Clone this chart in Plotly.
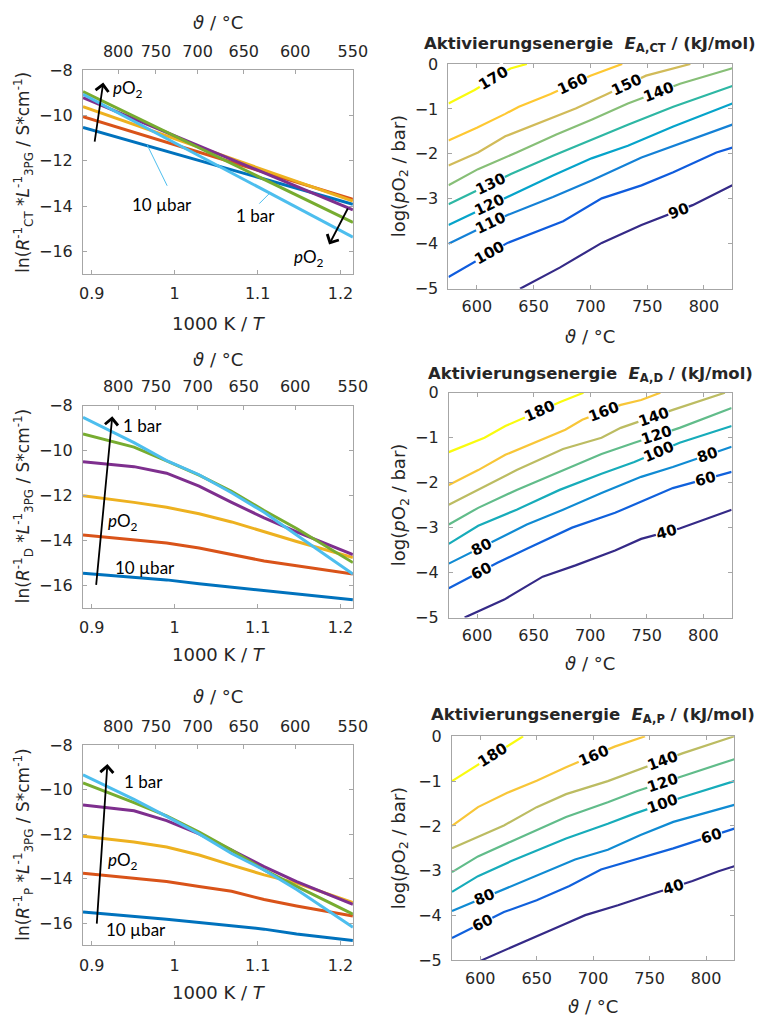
import math
import numpy as np
import plotly.graph_objects as go

W, H = 772, 1029
FONT = "DejaVu Sans"
ANNFONT = "Lato"
TXT = "#262626"
AXC = "#a6a6a6"

# ---------------- left panels: ln(conductance) vs 1000K/T ----------------
po2_names = ["10 µbar", "100 µbar", "1 mbar", "10 mbar", "100 mbar", "1 bar"]
po2_colors = ["#0072BD", "#D95319", "#EDB120", "#7E2F8E", "#77AC30", "#4DBEEE"]

invT_ct = [0.8894, 1.2149]
ln_ct = [
    [-10.52, -13.92],
    [-10.05, -13.70],
    [-9.60, -13.78],
    [-9.21, -14.16],
    [-8.94, -14.72],
    [-9.06, -15.37],
]

invT_dp = [0.8894, 0.9509, 0.9902, 1.0294, 1.0686, 1.1078, 1.1470, 1.2149]
ln_d = [
    [-15.47, -15.64, -15.76, -15.93, -16.08, -16.22, -16.36, -16.65],
    [-13.76, -13.98, -14.12, -14.34, -14.63, -14.92, -15.13, -15.50],
    [-12.02, -12.31, -12.53, -12.82, -13.18, -13.62, -14.05, -14.77],
    [-10.50, -10.72, -11.01, -11.59, -12.31, -13.00, -13.62, -14.63],
    [-9.27, -9.85, -10.46, -11.10, -11.82, -12.67, -13.47, -14.99],
    [-8.52, -9.65, -10.45, -11.08, -11.88, -12.75, -13.76, -15.50],
]
ln_p = [
    [-15.50, -15.68, -15.82, -15.97, -16.12, -16.27, -16.49, -16.78],
    [-13.76, -13.98, -14.13, -14.35, -14.57, -14.94, -15.23, -15.68],
    [-12.09, -12.35, -12.58, -12.94, -13.39, -13.83, -14.20, -15.08],
    [-10.69, -10.95, -11.39, -11.99, -12.72, -13.46, -14.13, -15.16],
    [-9.70, -10.58, -11.18, -11.91, -12.72, -13.61, -14.35, -15.60],
    [-9.33, -10.44, -11.20, -11.99, -12.87, -13.61, -14.49, -16.19],
]

theta_ticks = [800, 750, 700, 650, 600, 550]
invT_ticks = [0.9, 1.0, 1.1, 1.2]
invT_ticktext = ["0.9", "1", "1.1", "1.2"]
ln_ticks = [-16, -14, -12, -10, -8]

# ---------------- right panels: activation energy contours ----------------
ct_levels = [90, 100, 110, 120, 130, 140, 150, 160, 170]
ct_x = [
    [638, 673, 710, 745, 790, 825],
    [575, 627, 676, 710, 745, 773, 811, 825],
    [575, 627, 667, 701, 745, 825],
    [575, 630, 667, 701, 733, 773, 825],
    [575, 630, 667, 701, 733, 773, 825],
    [575, 601, 635, 670, 701, 733, 779, 825],
    [575, 601, 625, 658, 687, 713, 749, 788],
    [575, 600, 625, 637, 665, 700, 728],
    [575, 598, 629.6, 644],
]
ct_y = [
    [-5.0, -4.53, -3.98, -3.58, -3.14, -2.70],
    [-4.74, -3.98, -3.50, -2.99, -2.70, -2.41, -1.97, -1.86],
    [-4.0, -3.36, -2.96, -2.59, -2.08, -1.35],
    [-3.58, -2.92, -2.48, -2.10, -1.82, -1.39, -0.88],
    [-3.12, -2.45, -2.04, -1.68, -1.35, -0.95, -0.49],
    [-2.70, -2.34, -1.97, -1.57, -1.24, -0.88, -0.44, -0.095],
    [-2.26, -1.97, -1.61, -1.28, -0.99, -0.69, -0.26, 0.0],
    [-1.70, -1.42, -1.11, -0.95, -0.67, -0.26, 0.0],
    [-0.88, -0.58, -0.10, 0.0],
]
ct_label_level = [170, 160, 150, 140, 130, 120, 110, 100, 90]
ct_label_x = [615, 684, 731.6, 760, 612, 611, 612, 611, 777.6]

d_levels = [40, 60, 80, 100, 120, 140, 160, 180]
d_x = [
    [589, 624, 658, 687, 722, 745, 779, 825],
    [575, 618, 644, 684, 722, 745, 773, 825],
    [575, 618, 644, 676, 710, 745, 773, 825],
    [575, 601, 635, 673, 710, 739, 779, 825],
    [575, 601, 635, 673, 710, 739, 779, 825],
    [575, 601, 635, 676, 710, 727, 773, 819],
    [575, 601, 625, 661, 678, 693, 727, 745, 762],
    [575, 606.6, 625, 674, 694],
]
d_y = [
    [-5.0, -4.60, -4.09, -3.84, -3.51, -3.25, -3.02, -2.60],
    [-4.35, -3.78, -3.47, -3.0, -2.67, -2.42, -2.12, -1.76],
    [-3.80, -3.25, -2.93, -2.60, -2.23, -1.87, -1.65, -1.20],
    [-3.36, -2.96, -2.60, -2.16, -1.80, -1.54, -1.11, -0.74],
    [-2.93, -2.56, -2.16, -1.76, -1.36, -1.11, -0.78, -0.34],
    [-2.49, -2.16, -1.72, -1.25, -1.0, -0.78, -0.38, 0.0],
    [-2.05, -1.72, -1.38, -1.0, -0.82, -0.60, -0.27, -0.16, 0.0],
    [-1.32, -1.0, -0.74, -0.20, 0.0],
]
d_label_level = [180, 160, 140, 120, 100, 80, 60, 80, 60, 40]
d_label_x = [655.5, 711.5, 756, 759, 760, 604, 604, 803.5, 802, 767.5]

p_levels = [40, 60, 80, 100, 120, 140, 160, 180]
p_x = [
    [601, 627, 673, 693, 722, 748, 788, 811, 825],
    [575, 621, 650, 679, 707, 736, 771, 825],
    [575, 621, 656, 684, 713, 742, 771, 825],
    [575, 598, 627, 676, 713, 736, 779, 825],
    [575, 598, 627, 676, 713, 739, 779, 825],
    [575, 621, 650, 676, 713, 736, 779, 825],
    [575, 598, 624, 650, 676, 719, 746],
    [575, 627, 638],
]
p_y = [
    [-5.0, -4.72, -4.21, -3.99, -3.77, -3.55, -3.23, -3.01, -2.90],
    [-4.50, -3.92, -3.66, -3.34, -2.97, -2.75, -2.50, -2.06],
    [-3.90, -3.41, -3.04, -2.75, -2.53, -2.20, -1.91, -1.53],
    [-3.47, -3.12, -2.79, -2.28, -1.95, -1.73, -1.36, -1.0],
    [-3.03, -2.68, -2.35, -1.80, -1.47, -1.22, -0.89, -0.51],
    [-2.50, -1.99, -1.58, -1.29, -1.0, -0.78, -0.38, 0.0],
    [-2.0, -1.58, -1.26, -0.99, -0.69, -0.23, 0.0],
    [-1.0, -0.16, 0.0],
]
p_label_level = [180, 160, 140, 120, 100, 80, 60, 60, 40]
p_label_x = [611, 700, 761, 761, 761, 604, 602, 805, 771]

temp_ticks = [600, 650, 700, 750, 800]
logp_ticks = [-5, -4, -3, -2, -1, 0]

# ---------------- helpers ----------------
PARULA = ["#352A87", "#0F5CDD", "#1481D6", "#06A4CA", "#2EB7A4",
          "#87BF77", "#D1BB59", "#FEC832", "#F9FB0E"]


def parula(t):
    t = min(max(t, 0.0), 1.0)
    pos = t * (len(PARULA) - 1)
    i = min(int(pos), len(PARULA) - 2)
    f = pos - i
    c0 = [int(PARULA[i][k:k + 2], 16) for k in (1, 3, 5)]
    c1 = [int(PARULA[i + 1][k:k + 2], 16) for k in (1, 3, 5)]
    c = [round(a + (b - a) * f) for a, b in zip(c0, c1)]
    return "rgb(%d,%d,%d)" % tuple(c)


def aid(prefix, n):
    return prefix if n == 1 else f"{prefix}{n}"


def dom_x(l, r):
    return [l / W, r / W]


def dom_y(t, b):
    return [1 - b / H, 1 - t / H]


fig = go.Figure()
layout = {}
annotations = []
shapes = []

tickfont = dict(family=FONT, size=16, color=TXT)
base = dict(showgrid=False, zeroline=False, showline=True, linecolor=AXC, linewidth=1,
            ticks="inside", ticklen=4, tickcolor=AXC, tickwidth=1,
            tickfont=tickfont, fixedrange=True)

LX = (81, 357.7)
left_boxes = [(62.5, 270), (404, 610), (750, 954)]
right_boxes = [((455.7, 746.7), (56, 285)), ((456, 746), (391, 620)), ((459.3, 748.7), (741, 969.3))]
INV_RANGE = [0.8894, 1.2149]
T_RANGE = [575, 825]
left_top_title_y = [13.5, 357.5, 700]
left_bot_title_y = [320, 658, 1002.5]


def ann_paper(text, x, y, size, angle=0, family=FONT, xanchor="center", yanchor="middle"):
    annotations.append(dict(text=text, x=x / W, y=1 - y / H, xref="paper", yref="paper",
                            showarrow=False, textangle=angle, xanchor=xanchor, yanchor=yanchor,
                            font=dict(family=family, size=size, color=TXT)))


left_data = [(invT_ct, ln_ct), (invT_dp, ln_d), (invT_dp, ln_p)]
ytitles = [
    "ln(<i>R</i><sup>-1</sup><sub>CT</sub> *<i>L</i><sup>-1</sup><sub>3PG</sub> / S*cm<sup>-1</sup>)",
    "ln(<i>R</i><sup>-1</sup><sub>D</sub> *<i>L</i><sup>-1</sup><sub>3PG</sub> / S*cm<sup>-1</sup>)",
    "ln(<i>R</i><sup>-1</sup><sub>P</sub> *<i>L</i><sup>-1</sup><sub>3PG</sub> / S*cm<sup>-1</sup>)",
]
top_tickvals = [1000.0 / (t + 273.15) for t in theta_ticks]

for i in range(3):
    n = 2 * i + 1
    nt = 7 + i
    xs, series = left_data[i]
    top, bot = left_boxes[i]
    for j, vals in enumerate(series):
        fig.add_trace(go.Scatter(x=xs, y=vals, mode="lines", name=po2_names[j],
                                 line=dict(color=po2_colors[j], width=3),
                                 xaxis=aid("x", n), yaxis=aid("y", n),
                                 showlegend=False, hoverinfo="skip"))
    fig.add_trace(go.Scatter(x=[1.0], y=[-12], mode="markers", marker=dict(opacity=0, size=1),
                             xaxis=aid("x", nt), yaxis=aid("y", n), showlegend=False, hoverinfo="skip"))
    layout[aid("xaxis", n)] = dict(base, domain=dom_x(*LX), range=INV_RANGE, anchor=aid("y", n),
                                   tickvals=invT_ticks, ticktext=invT_ticktext, mirror=True,
                                   ticklabelstandoff=5)
    layout[aid("yaxis", n)] = dict(base, domain=dom_y(top, bot), range=[-17, -8], anchor=aid("x", n),
                                   tickvals=ln_ticks, mirror="ticks", ticklabelstandoff=6)
    layout[aid("xaxis", nt)] = dict(base, overlaying=aid("x", n), side="top", anchor=aid("y", n),
                                    range=INV_RANGE, tickvals=top_tickvals,
                                    ticktext=[str(t) for t in theta_ticks], showline=False,
                                    ticklabelstandoff=9)
    cx = (LX[0] + LX[1]) / 2
    ann_paper("<i>ϑ</i> / °C", cx, left_top_title_y[i], 18)
    ann_paper("1000 K / <i>T</i>", cx + 1, left_bot_title_y[i], 18)
    ann_paper(ytitles[i], 20, (top + bot) / 2, 17, angle=-90)


# annotations inside left panels (arrows and texts)
def data_ann(text, x, y, xr, yr, size=17, **kw):
    d = dict(text=text, x=x, y=y, xref=xr, yref=yr, showarrow=False,
             font=dict(family=ANNFONT, size=size, color="black"))
    d.update(kw)
    annotations.append(d)


def arrow(x, y, ax, ay, xr, yr):
    annotations.append(dict(text="", x=x, y=y, ax=ax, ay=ay, xref=xr, yref=yr, axref=xr, ayref=yr,
                            showarrow=True, arrowhead=4, arrowsize=1.4, arrowwidth=1.8,
                            arrowcolor="black", standoff=0, startstandoff=0))


# panel 1
arrow(0.9138, -8.54, 0.9032, -11.22, "x", "y")
data_ann("<i>p</i>O<sub>2</sub>", 0.9441, -8.83, "x", "y")
arrow(1.1862, -15.70, 1.2097, -14.04, "x", "y")
data_ann("<i>p</i>O<sub>2</sub>", 1.1623, -16.28, "x", "y")
data_ann("10 µbar", 0.9843, -13.94, "x", "y")
data_ann("1 bar", 1.097, -14.42, "x", "y")
shapes.append(dict(type="line", xref="x", yref="y", x0=0.9667, y0=-11.29, x1=0.9909, y1=-13.10,
                   line=dict(color="#4DBEEE", width=1)))
shapes.append(dict(type="line", xref="x", yref="y", x0=1.1020, y0=-13.89, x1=1.1156, y1=-13.39,
                   line=dict(color="#4DBEEE", width=1)))
# panel 2
arrow(0.9247, -8.48, 0.9051, -16.05, "x3", "y3")
data_ann("1 bar", 0.9608, -8.90, "x3", "y3")
data_ann("<i>p</i>O<sub>2</sub>", 0.9382, -13.18, "x3", "y3")
data_ann("10 µbar", 0.9647, -15.23, "x3", "y3")
# panel 3
arrow(0.9188, -8.85, 0.9059, -16.09, "x5", "y5")
data_ann("1 bar", 0.9618, -9.65, "x5", "y5")
data_ann("<i>p</i>O<sub>2</sub>", 0.9376, -13.2, "x5", "y5")
data_ann("10 µbar", 0.9529, -16.3, "x5", "y5")

# ---------------- right panels ----------------
right_data = [
    (ct_levels, ct_x, ct_y, ct_label_level, ct_label_x, "A,CT"),
    (d_levels, d_x, d_y, d_label_level, d_label_x, "A,D"),
    (p_levels, p_x, p_y, p_label_level, p_label_x, "A,P"),
]
title_y = [36, 372, 720]
xtitle_y = [334, 666.5, 1016.5]

for i in range(3):
    n = 2 * i + 2
    (l, r), (top, bot) = right_boxes[i]
    levels, lx, ly, lab_lev, lab_x, sub = right_data[i]
    lo, hi = min(levels), max(levels)
    for k, lev in enumerate(levels):
        fig.add_trace(go.Scatter(x=lx[k], y=ly[k], mode="lines", name=str(lev),
                                 line=dict(color=parula((lev - lo) / (hi - lo)), width=2.2),
                                 xaxis=aid("x", n), yaxis=aid("y", n),
                                 showlegend=False, hoverinfo="skip"))
    sx = (r - l) / (T_RANGE[1] - T_RANGE[0])
    sy = (bot - top) / 5.0
    for lev, xl in zip(lab_lev, lab_x):
        k = levels.index(lev)
        yl = float(np.interp(xl, lx[k], ly[k]))
        xa, xb = xl - 10, xl + 10
        ya, yb = np.interp(xa, lx[k], ly[k]), np.interp(xb, lx[k], ly[k])
        ang = -math.degrees(math.atan2((yb - ya) * sy, (xb - xa) * sx))
        annotations.append(dict(text=f"<b>{lev}</b>", x=xl, y=yl, xref=aid("x", n), yref=aid("y", n),
                                showarrow=False, textangle=ang, bgcolor="white", borderpad=0,
                                font=dict(family=FONT, size=15, color="black")))
    layout[aid("xaxis", n)] = dict(base, domain=dom_x(l, r), range=T_RANGE, anchor=aid("y", n),
                                   tickvals=temp_ticks, mirror="ticks", ticklabelstandoff=3)
    layout[aid("yaxis", n)] = dict(base, domain=dom_y(top, bot), range=[-5, 0], anchor=aid("x", n),
                                   tickvals=logp_ticks, mirror="ticks", ticklabelstandoff=6)
    cx = (l + r) / 2
    ann_paper(f"<b>Aktivierungsenergie  <i>E</i><sub>{sub}</sub> / (kJ/mol)</b>", cx, title_y[i], 16.5)
    ann_paper("<i>ϑ</i> / °C", cx, xtitle_y[i], 18)
    ann_paper("log(<i>p</i>O<sub>2</sub> / bar)", 406, (top + bot) / 2, 18, angle=-90)

layout.update(dict(width=W, height=H, margin=dict(l=0, r=0, t=0, b=0),
                   paper_bgcolor="white", plot_bgcolor="white", showlegend=False,
                   annotations=annotations, shapes=shapes,
                   font=dict(family=FONT, color=TXT)))
fig.update_layout(**layout)
fig.write_html("out.html")
